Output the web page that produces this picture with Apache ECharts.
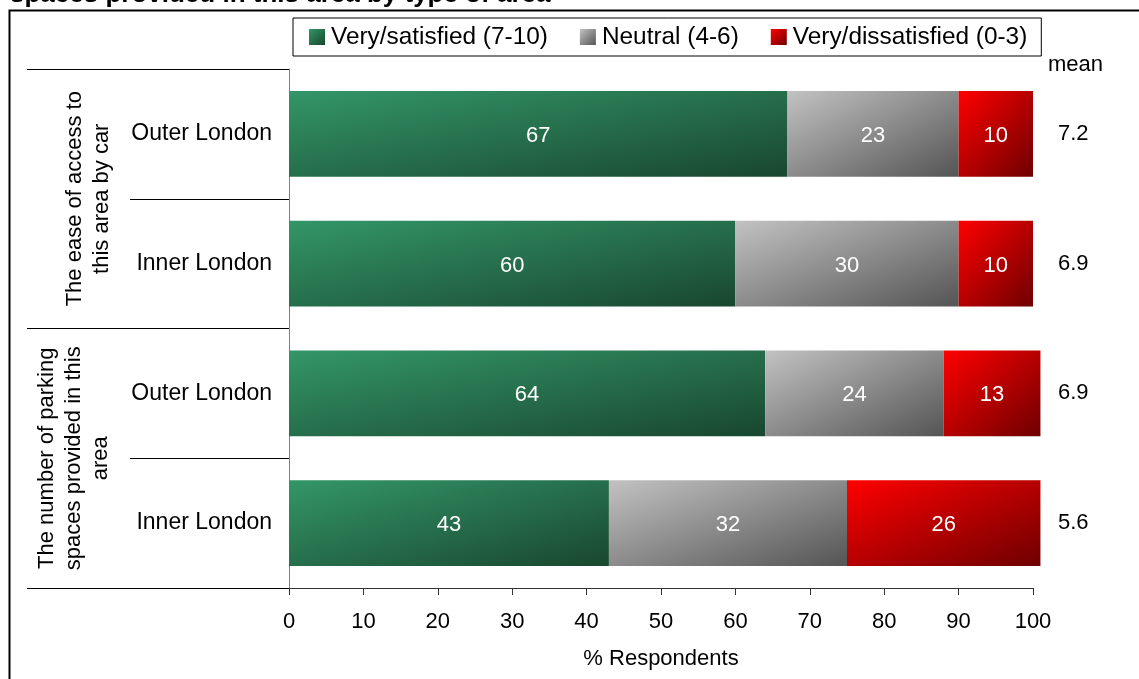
<!DOCTYPE html>
<html>
<head>
<meta charset="utf-8">
<script src="https://cdn.jsdelivr.net/npm/echarts@6/dist/echarts.min.js"></script>
<style>
html,body{margin:0;padding:0;background:#fff;}
#chart{width:1139px;height:679px;}
</style>
</head>
<body>
<div id="chart"></div>
<script>
// ---- data ----
const rowLabels = ['Outer London', 'Inner London', 'Outer London', 'Inner London'];
const groupLabels = ['The ease of access to\nthis area by car', 'The number of parking\nspaces provided in this\narea'];
const seriesNames = ['Very/satisfied (7-10)', 'Neutral (4-6)', 'Very/dissatisfied (0-3)'];
const satisfied = [67, 60, 64, 43];
const neutral = [23, 30, 24, 32];
const dissatisfied = [10, 10, 13, 26];
const means = [7.2, 6.9, 6.9, 5.6];
const xTicks = [0, 10, 20, 30, 40, 50, 60, 70, 80, 90, 100];

// ---- style ----
const FONT = '"Liberation Sans", Arial, sans-serif';
const gridLeft = 289, gridRight = 106, gridTop = 69, gridBottom = 91;
const pxPer = (1139 - gridLeft - gridRight) / 100;
const barH = 86;
const colorPairs = [
  ['#339668', '#19472f'],
  ['#c2c2c2', '#555555'],
  ['#ff0000', '#6e0000']
];

function barGradient(pair, value) {
  const w = Math.max(value * pxPer, 1), h = barH;
  const d = w * w + h * h;
  return new echarts.graphic.LinearGradient(0, 0, 2 * h * h / d, 2 * w * w / d, [
    { offset: 0, color: pair[0] }, { offset: 1, color: pair[1] }
  ]);
}
function legendGradient(pair) {
  return new echarts.graphic.LinearGradient(0, 0, 1, 1, [
    { offset: 0, color: pair[0] }, { offset: 1, color: pair[1] }
  ]);
}

const valueSets = [satisfied, neutral, dissatisfied];
const series = valueSets.map((vals, si) => ({
  name: seriesNames[si],
  type: 'bar',
  stack: 'total',
  clip: false,
  barCategoryGap: '34%',
  yAxisIndex: 0,
  itemStyle: { color: legendGradient(colorPairs[si]) },
  label: {
    show: true, position: 'inside', color: '#fff',
    fontFamily: FONT, fontSize: 22, offset: [0, 2]
  },
  emphasis: { disabled: true },
  data: vals.map(v => ({ value: v, itemStyle: { color: barGradient(colorPairs[si], v) } }))
}));

const catKeys = rowLabels.map((_, i) => 'r' + i);
const groupKeys = groupLabels.map((_, i) => 'g' + i);

const chart = echarts.init(document.getElementById('chart'), null, { renderer: 'canvas' });
chart.setOption({
  animation: false,
  backgroundColor: '#fff',
  textStyle: { fontFamily: FONT },
  legend: {
    data: seriesNames,
    left: 293, top: 18,
    orient: 'horizontal',
    padding: [7, 14, 7, 16],
    itemGap: 32,
    itemWidth: 16, itemHeight: 16,
    icon: 'rect',
    borderColor: '#000', borderWidth: 1,
    textStyle: { fontFamily: FONT, fontSize: 24.4, color: '#000', padding: [2, 0, 0, 1] },
    selectedMode: false
  },
  grid: { left: gridLeft, right: gridRight, top: gridTop, bottom: gridBottom, containLabel: false },
  xAxis: {
    type: 'value', min: 0, max: 100, interval: 10,
    name: '% Respondents', nameLocation: 'middle', nameGap: 60,
    nameTextStyle: { fontFamily: FONT, fontSize: 22, color: '#000' },
    axisLine: { show: true, lineStyle: { color: '#333', width: 1 } },
    axisTick: { show: true, length: 7, lineStyle: { color: '#333' } },
    axisLabel: { fontFamily: FONT, fontSize: 22, color: '#000', margin: 23,
      formatter: v => xTicks.includes(v) ? String(v) : '' },
    splitLine: { show: false }
  },
  yAxis: [
    {
      type: 'category', inverse: true, data: catKeys,
      axisLine: { show: true, lineStyle: { color: '#808080' } },
      axisTick: { show: true, length: 159, interval: 0, lineStyle: { color: '#000' } },
      axisLabel: { fontFamily: FONT, fontSize: 23, color: '#000', margin: 17, interval: 0,
        padding: [5, 0, 0, 0],
        formatter: (v, i) => rowLabels[i] },
      splitLine: { show: false }
    },
    {
      type: 'category', inverse: true, data: groupKeys, position: 'left', offset: 159,
      axisLine: { show: false },
      axisTick: { show: true, length: 103, interval: 0, lineStyle: { color: '#000' } },
      axisLabel: { show: false },
      splitLine: { show: false }
    },
    {
      type: 'category', inverse: true, data: catKeys, position: 'right',
      axisLine: { show: false }, axisTick: { show: false },
      axisLabel: { fontFamily: FONT, fontSize: 22, color: '#000', margin: 25, interval: 0,
        align: 'left', padding: [0, 0, 2, 0],
        formatter: (v, i) => means[i].toFixed(1) },
      splitLine: { show: false }
    }
  ],
  series: series
});

// group labels & decorations
const g0 = chart.convertToPixel({ yAxisIndex: 1 }, groupKeys[0]);
const g1 = chart.convertToPixel({ yAxisIndex: 1 }, groupKeys[1]);
const groupX = [88, 74];
chart.setOption({
  graphic: [
    { type: 'rect', z: 100, silent: true,
      shape: { x: 9.5, y: 10.5, width: 1200, height: 700 },
      style: { fill: 'none', stroke: '#000', lineWidth: 2 } },
    { type: 'text', z: 100, x: 10, y: 8, silent: true,
      style: { text: 'spaces provided in this area by type of area', fill: '#000',
        font: 'bold 26px ' + FONT, textAlign: 'left', textVerticalAlign: 'bottom' } },
    { type: 'text', z: 100, x: 1048, y: 65, silent: true,
      style: { text: 'mean', fill: '#000', font: '22px ' + FONT,
        textAlign: 'left', textVerticalAlign: 'middle' } },
    { type: 'text', z: 100, x: groupX[0], y: g0, rotation: Math.PI / 2, silent: true,
      style: { text: groupLabels[0], fill: '#000', font: '22px ' + FONT, lineHeight: 27,
        textAlign: 'center', textVerticalAlign: 'middle' } },
    { type: 'text', z: 100, x: groupX[1], y: g1, rotation: Math.PI / 2, silent: true,
      style: { text: groupLabels[1], fill: '#000', font: '22px ' + FONT, lineHeight: 27,
        textAlign: 'center', textVerticalAlign: 'middle' } }
  ]
});
</script>
</body>
</html>
